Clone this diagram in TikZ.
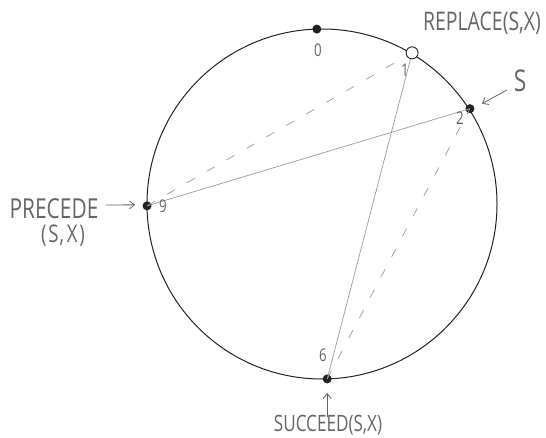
\documentclass[tikz,border=0pt]{standalone}
\usepackage{fontspec}
\setmainfont{Open Sans}
\usetikzlibrary{arrows.meta,calc}
\definecolor{ink}{HTML}{222222}
\definecolor{pencil}{HTML}{666666}
\definecolor{chord}{HTML}{9A9A9A}
\newcommand{\tallt}[1]{\scalebox{0.95}[1.25]{#1}}
\tikzset{
  dot/.style={circle,fill=ink,inner sep=0pt,minimum size=9pt},
  hollow/.style={circle,draw=ink,fill=white,line width=0.9pt,inner sep=0pt,minimum size=12pt},
  num/.style={text=pencil,font=\fontsize{14}{14}\selectfont},
  lbl/.style={text=pencil,font=\fontsize{19}{19}\selectfont,inner sep=0pt},
  chordline/.style={draw=chord,line width=0.7pt},
  chorddash/.style={draw=chord,line width=0.7pt,dash pattern=on 9pt off 14pt},
  pointer/.style={draw=pencil,line width=0.8pt,-{Straight Barb[length=5pt,width=8pt]}}
}
\begin{document}
\begin{tikzpicture}[x=1pt,y=1pt]
\useasboundingbox (0,0) rectangle (546,437);
\coordinate (C) at (322,233);
\draw[ink,line width=1pt] (C) circle (175);
% points
\node[dot] (p0) at ($(C)+(91.7:175)$) {};
\node[dot] (p2) at ($(C)+(32.8:176)$) {};
\node[dot] (p9) at ($(C)+(180.6:175)$) {};
\node[dot] (p6) at ($(C)+(-88.3:175)$) {};
\coordinate (p1c) at ($(C)+(59.2:176)$);
% chords
\draw[chordline] (p9.center) -- (p2.center);
\draw[chordline] (p1c) -- (p6.center);
\draw[chorddash] (p9.center) -- (p1c);
\draw[chorddash] (p6.center) -- (p2.center);
\node[hollow] (p1) at (p1c) {};
% numbers
\node[num] (n0) at (318,387) {\tallt{0}};
\node[num] (n1) at (405,367) {\tallt{1}};
\node[num] (n2) at (460,319) {\tallt{2}};
\node[num] (n9) at (163,231) {\tallt{9}};
\node[num] (n6) at (323,82) {\tallt{6}};
% labels
\node[lbl,font=\fontsize{20.5}{20.5}\selectfont] (rep) at (482,414) {\tallt{REPLACE(S,X)}};
\node[lbl,font=\fontsize{24}{24}\selectfont] (s) at (520,356) {\tallt{S}};
\coordinate (sa) at (507,347);
\draw[pointer] (sa) -- ($(p2)+(12,5)$);
\node[lbl,font=\fontsize{22}{22}\selectfont] (pre) at (54,228) {\tallt{PRECEDE}};
\node[lbl,font=\fontsize{19.5}{19.5}\selectfont] (presx) at (63,201) {\tallt{(\kern2ptS\kern1pt,\kern3ptX\kern2pt)}};
\coordinate (pa) at (106,232);
\draw[pointer] (pa) -- ($(p9)+(-12,1)$);
\node[lbl,font=\fontsize{18}{18}\selectfont] (suc) at (328,12) {\tallt{SUCCEED(S,X)}};
\coordinate (ua) at ($(p6)+(0,-38)$);
\draw[pointer] (ua) -- ($(p6)+(0,-14)$);
\end{tikzpicture}
\end{document}
